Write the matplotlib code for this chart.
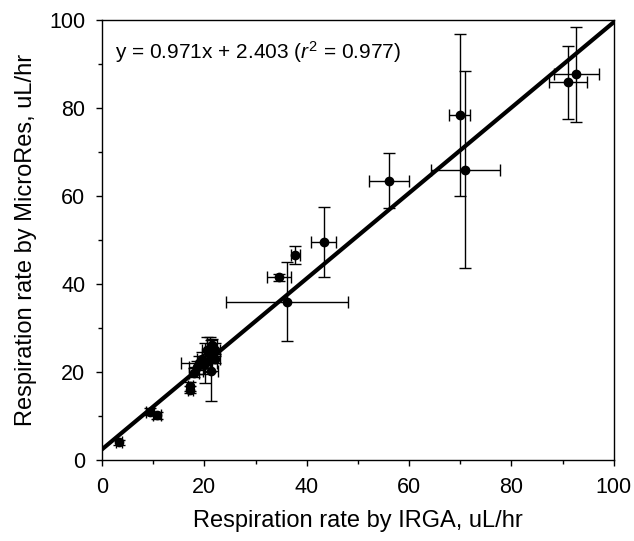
import numpy as np
import matplotlib
matplotlib.use("Agg")
import matplotlib.pyplot as plt

plt.rcParams["font.family"] = ["Liberation Sans", "DejaVu Sans"]
plt.rcParams["mathtext.fontset"] = "custom"
plt.rcParams["mathtext.rm"] = "Liberation Sans"
plt.rcParams["mathtext.it"] = "Liberation Sans:italic"

# respiration by IRGA (x) vs MicroRes (y), with SD of each
irga = [3.3, 9.3, 10.7, 17.2, 17.2, 18.0, 18.5, 19.0, 19.5, 20.0, 20.2, 20.5,
        21.0, 21.5, 22.0, 22.0, 21.2, 34.6, 36.1, 37.8, 43.3, 56.1, 69.9, 71.0,
        91.1, 92.7]
microres = [4.0, 10.9, 10.1, 16.7, 15.9, 19.8, 21.0, 22.0, 23.0, 21.5, 22.0, 25.0,
            24.0, 26.0, 25.0, 23.0, 20.3, 41.5, 36.0, 46.6, 49.6, 63.5, 78.4, 66.0,
            85.8, 87.7]
irga_sd = [0.6, 0.8, 0.8, 0.5, 0.5, 1.0, 1.5, 3.5, 1.0, 1.5, 1.0, 1.0,
           1.5, 1.0, 1.0, 1.0, 1.5, 2.3, 11.9, 0.8, 2.4, 3.9, 2.0, 6.7,
           3.7, 4.4]
microres_sd = [0.6, 0.8, 0.8, 1.0, 0.8, 1.0, 1.5, 1.5, 1.5, 2.0, 4.5, 3.0,
               4.0, 1.5, 1.5, 1.0, 7.0, 0.8, 9.0, 2.0, 8.0, 6.3, 18.4, 22.3,
               8.2, 10.8]

slope = 0.971
intercept = 2.403
r2 = 0.977

fig = plt.figure(figsize=(6.34, 5.41), dpi=100)
ax = fig.add_axes([0.161, 0.150, 0.807, 0.813])

ax.errorbar(irga, microres, xerr=irga_sd, yerr=microres_sd, fmt="o", color="black",
            markersize=6, elinewidth=1.0, capsize=4.5, capthick=1.0, zorder=3)

fit_x = np.array([0, 100])
ax.plot(fit_x, slope * fit_x + intercept, color="black", lw=3, zorder=2)

ax.text(2.5, 92.8, "y = %.3fx + %.3f ($r^{\\mathrm{2}}$ = %.3f)" % (slope, intercept, r2),
        fontsize=15, va="center", ha="left")

ax.set_xlim(0, 100)
ax.set_ylim(0, 100)
ax.set_xticks(np.arange(0, 101, 20))
ax.set_yticks(np.arange(0, 101, 20))
ax.set_xticks(np.arange(10, 100, 20), minor=True)
ax.set_yticks(np.arange(10, 100, 20), minor=True)
ax.tick_params(which="major", direction="out", length=4, width=1, labelsize=15.5, pad=8)
ax.tick_params(which="minor", direction="out", length=3, width=1)
for sp in ax.spines.values():
    sp.set_linewidth(1.0)

ax.set_xlabel("Respiration rate by IRGA, uL/hr", fontsize=17, labelpad=9)
ax.set_ylabel("Respiration rate by MicroRes, uL/hr", fontsize=17, labelpad=9)

fig.savefig("out.png", dpi=100)
